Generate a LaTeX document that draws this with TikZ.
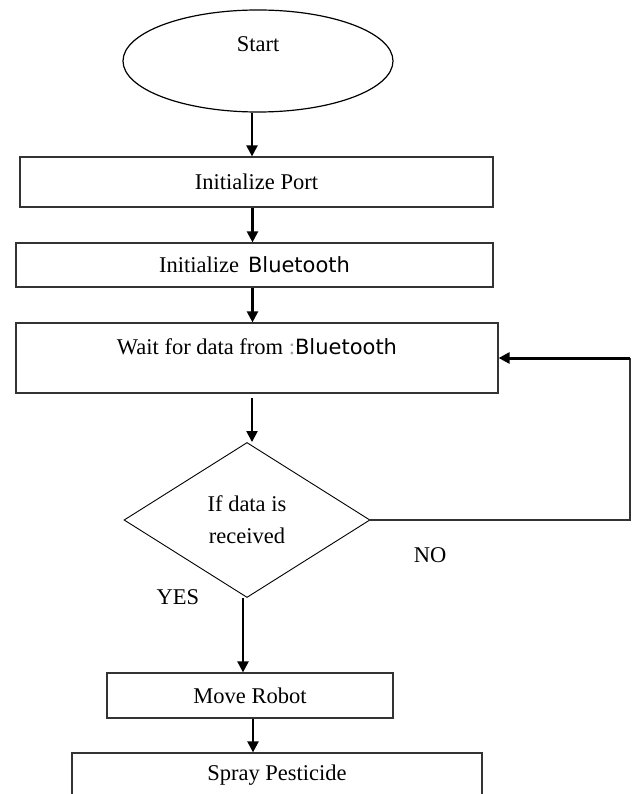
\documentclass[tikz,border=0pt]{standalone}
\usepackage{fontspec}
\setmainfont{Liberation Serif}
\newfontfamily\btfont{DejaVu Sans}
\usetikzlibrary{shapes.geometric, arrows.meta}
\definecolor{BLACK}{HTML}{000000}
\definecolor{EDGE}{HTML}{333333}
\definecolor{GREY}{HTML}{999999}

\begin{document}
\begin{tikzpicture}[x=1pt, y=-1pt,
    box/.style={draw=EDGE, line width=1.2pt, rectangle, inner sep=0pt, font=\fontsize{22.5}{32}\selectfont},
    tag/.style={inner sep=0pt, font=\fontsize{22.5}{32}\selectfont},
    flow/.style={BLACK, line width=2.2pt, -{Triangle[length=11pt, width=11pt]}},
    link/.style={EDGE, line width=1.2pt}]
    \useasboundingbox (0,0) rectangle (635,794);
    \clip (0,0) rectangle (635,794);
    \node[box, draw=BLACK, ellipse, minimum width=270pt, minimum height=102pt, text height=16pt, text depth=34pt] (start) at (258,61) {Start};
    \node[box, minimum width=473pt, minimum height=50pt] (port) at (256.5,182) {Initialize Port};
    \node[box, minimum width=477pt, minimum height=44pt] (bt) at (254.5,265) {Initialize\hspace{9pt}{\btfont\fontsize{21}{26}\selectfont Bluetooth}};
    \node[box, minimum width=482pt, minimum height=70pt, text height=16pt, text depth=24pt] (wait) at (257,358) {Wait for data from {\color{GREY}:}{\btfont\fontsize{21}{26}\selectfont Bluetooth}};
    \node[box, draw=BLACK, line width=0.9pt, diamond, aspect=1.59, minimum width=246pt, minimum height=155pt, align=center] (dec) at (247,520) {If data is\\received};
    \node[box, minimum width=286pt, minimum height=45pt] (move) at (250,695.5) {Move Robot};
    \node[box, minimum width=410pt, minimum height=44pt] (spray) at (277,775) {Spray Pesticide};
    \node[tag] (lblno) at (430,555) {NO};
    \node[tag] (lblyes) at (178,597) {YES};
    \coordinate (loopbot) at (630,520);
    \coordinate (looptop) at (630,358);
    \draw[flow] ([xshift=-6pt]start.south) -- ([xshift=-6pt]start.south |- port.north);
    \draw[flow] ([xshift=-4pt]port.south) -- ([xshift=-4pt]port.south |- bt.north);
    \draw[flow] ([xshift=-2pt]bt.south) -- ([xshift=-2pt]bt.south |- wait.north);
    \draw[flow] ([xshift=-5pt, yshift=-4pt]wait.south) -- ([xshift=-5pt]wait.south |- dec.north);
    \draw[flow] ([xshift=-4pt]dec.south) -- ([xshift=-4pt]dec.south |- move.north);
    \draw[flow] ([xshift=3pt]move.south) -- ([xshift=3pt]move.south |- spray.north);
    \draw[link] (dec.east) -- (loopbot) -- (looptop);
    \draw[flow, line width=3pt] (looptop) -- (looptop -| wait.east);
\end{tikzpicture}
\end{document}
